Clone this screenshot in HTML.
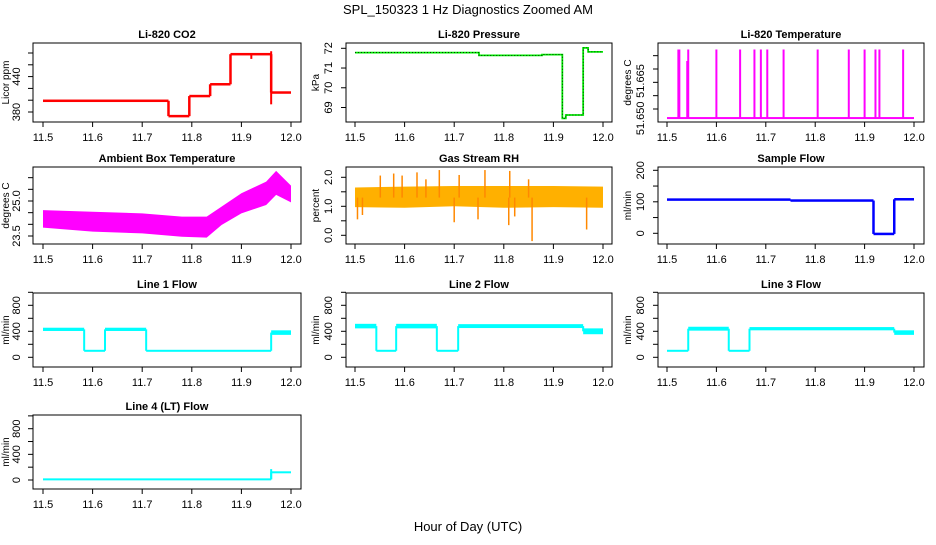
<!DOCTYPE html>
<html><head><meta charset="utf-8">
<style>
html,body{margin:0;padding:0;background:#fff;}
svg text{font-family:"Liberation Sans",sans-serif;}
</style></head>
<body>
<svg id="chart" width="936" height="540" viewBox="0 0 936 540" xmlns="http://www.w3.org/2000/svg">
<rect width="936" height="540" fill="#fff"/>
<text x="468" y="14" font-size="13" text-anchor="middle">SPL_150323 1 Hz Diagnostics Zoomed AM</text>
<text x="468" y="531" font-size="13" text-anchor="middle">Hour of Day (UTC)</text>
</svg>
<script>
// ---------- data ----------
const xTicks = [11.5, 11.6, 11.7, 11.8, 11.9, 12.0];
const xTickLabels = ["11.5", "11.6", "11.7", "11.8", "11.9", "12.0"];

const co2Times = [11.5, 11.753, 11.795, 11.837, 11.878, 11.96, 12.0];
const co2Values = [399, 373, 407, 427, 478, 413];
const co2Spread = [1.5, 1.5, 2, 1.5, 2, 1.5];
const co2Spikes = [[11.96, 393, 483], [11.92, 470, 480]];

const presTimes = [11.5, 11.75, 11.877, 11.918, 11.925, 11.96, 11.97, 12.0];
const presValues = [71.78, 71.64, 71.68, 68.45, 68.62, 72.02, 71.82];

const tempBaseTimes = [11.5, 12.0];
const tempBaseValues = [51.6466];
const tempSpikeTimes = [11.523, 11.525, 11.541, 11.543, 11.6, 11.648, 11.677, 11.69, 11.703, 11.736, 11.805, 11.868, 11.9, 11.922, 11.93, 11.978];
const tempSpikeTop = [51.6723, 51.6723, 51.668, 51.6723, 51.6723, 51.6723, 51.6723, 51.6723, 51.6723, 51.6723, 51.6723, 51.6723, 51.6723, 51.6723, 51.6723, 51.6723];

const ambTimes = [11.5, 11.6, 11.7, 11.78, 11.83, 11.86, 11.9, 11.95, 11.97, 12.0];
const ambLow = [23.86, 23.69, 23.61, 23.47, 23.43, 23.97, 24.47, 24.83, 25.26, 24.94];
const ambHigh = [24.61, 24.54, 24.47, 24.33, 24.33, 24.76, 25.33, 25.83, 26.29, 25.66];

const rhTimes = [11.5, 11.6, 11.7, 11.8, 11.9, 12.0];
const rhLow = [0.97, 0.95, 1.0, 0.95, 0.97, 0.95];
const rhHigh = [1.65, 1.68, 1.7, 1.7, 1.7, 1.68];
const rhSpikeTimes = [11.551, 11.578, 11.595, 11.625, 11.643, 11.67, 11.71, 11.762, 11.812, 11.85, 11.505, 11.515, 11.70, 11.748, 11.81, 11.822, 11.857, 11.967];
const rhSpikeValues = [2.06, 2.13, 2.06, 2.17, 1.93, 2.25, 2.08, 2.25, 2.22, 1.93, 0.55, 0.7, 0.45, 0.55, 0.35, 0.65, -0.2, 0.2];

const sampTimes = [11.5, 11.75, 11.918, 11.96, 12.0];
const sampValues = [107, 104, -2, 108];
const sampSpread = [2.5, 3, 4, 4];

const l1Times = [11.5, 11.583, 11.625, 11.708, 11.75, 11.96, 12.0];
const l1Values = [430, 100, 430, 100, 100, 380];
const l1Spread = [25, 8, 25, 8, 3, 35];

const l2Times = [11.5, 11.543, 11.583, 11.665, 11.708, 11.96, 12.0];
const l2Values = [480, 100, 480, 100, 480, 400];
const l2Spread = [35, 8, 35, 8, 30, 45];

const l3Times = [11.5, 11.543, 11.625, 11.667, 11.96, 12.0];
const l3Values = [100, 440, 100, 440, 380];
const l3Spread = [8, 30, 8, 25, 35];

const l4Times = [11.5, 11.96, 12.0];
const l4Values = [10, 120];
const l4Spread = [8, 10];
const l4Spikes = [[11.96, 10, 170]];

// ---------- layout ----------
const NS = "http://www.w3.org/2000/svg";
const svg = document.getElementById("chart");
const cols = [{bx0:33,bx1:301,x0:43,x1:291,tl:20,at:9},{bx0:346,bx1:612,x0:355,x1:603,tl:332,at:319},{bx0:658,bx1:924,x0:667,x1:914,tl:644,at:631}];
const rows = [{by0:43,by1:122},{by0:167,by1:244},{by0:293,by1:367},{by0:415,by1:489}];

function mk(tag, attrs, parent){
  const e = document.createElementNS(NS, tag);
  for (const k in attrs) e.setAttribute(k, attrs[k]);
  (parent||svg).appendChild(e);
  return e;
}

function panel(name, title, ytitle, c, r, ya, yb, yTicks, yLabels){
  const C = cols[c], R = rows[r];
  const g = mk("g", {});
  
  
  const xs = t => C.x0 + (t - 11.5) / 0.5 * (C.x1 - C.x0);
  const ys = v => ya[1] + (v - ya[0]) / (yb[0] - ya[0]) * (yb[1] - ya[1]);
  const t = mk("text", {x:(C.bx0+C.bx1)/2, y:R.by0-5, "font-size":11, "font-weight":"bold", "text-anchor":"middle"}, g);
  t.textContent = title;
  
  
  const yt = mk("text", {x:C.at, y:(R.by0+R.by1)/2, "font-size":10, "text-anchor":"middle", transform:`rotate(-90 ${C.at} ${(R.by0+R.by1)/2})`}, g);
  yt.textContent = ytitle;
  
  
  // x axis
  const xa = mk("g", {}, g);
  
  
  mk("line", {x1:xs(11.5), x2:xs(12.0), y1:R.by1, y2:R.by1, stroke:"#000"}, xa);
  xTicks.forEach((v,i)=>{
    mk("line", {x1:xs(v), x2:xs(v), y1:R.by1, y2:R.by1+5, stroke:"#000"}, xa);
    const l = mk("text", {x:xs(v), y:R.by1+19, "font-size":11, "text-anchor":"middle"}, xa);
    l.textContent = xTickLabels[i];
  });
  // y axis
  const yaG = mk("g", {}, g);
  
  
  yTicks.forEach(v=>{
    mk("line", {x1:C.bx0-5, x2:C.bx0, y1:ys(v), y2:ys(v), stroke:"#000"}, yaG);
  });
  yLabels.forEach(([v,s])=>{
    const y = ys(v);
    const l = mk("text", {x:C.tl, y:y, "font-size":11, "text-anchor":"middle", transform:`rotate(-90 ${C.tl} ${y})`}, yaG);
    l.textContent = s;
  });
  const clip = "clip-" + name;
  const cp = mk("clipPath", {id:clip}, g);
  mk("rect", {x:C.bx0, y:R.by0, width:C.bx1-C.bx0, height:R.by1-R.by0}, cp);
  const plot = mk("g", {"clip-path":`url(#${clip})`}, g);
  
  
  mk("rect", {x:C.bx0, y:R.by0, width:C.bx1-C.bx0, height:R.by1-R.by0, fill:"none", stroke:"#000"}, g);
  return {xs, ys, plot};
}

function steps(P, name, times, vals, spread, color, lw){
  for (let i=0;i<vals.length;i++){
    const x0 = P.xs(times[i]), x1 = P.xs(times[i+1]);
    const yA = P.ys(vals[i]+spread[i]), yB = P.ys(vals[i]-spread[i]);
    const top = Math.min(yA,yB), h = Math.max(Math.abs(yB-yA), lw);
    const r = mk("rect", {x:x0, y:top - (h===lw ? 0 : 0) - (Math.abs(yB-yA)<lw ? lw/2 - Math.abs(yB-yA)/2 : 0), width:x1-x0, height:h, fill:color}, P.plot);
    
    
    if (i < vals.length-1){
      const c = mk("line", {x1:x1, x2:x1, y1:P.ys(vals[i]), y2:P.ys(vals[i+1]), stroke:color, "stroke-width":lw}, P.plot);
      
      
    }
  }
}
function spikes(P, name, arr, color, lw){
  arr.forEach(([t,lo,hi])=>{
    const l = mk("line", {x1:P.xs(t), x2:P.xs(t), y1:P.ys(lo), y2:P.ys(hi), stroke:color, "stroke-width":lw}, P.plot);
    
    
  });
}
function band(P, name, times, lo, hi, color){
  let d = "M" + times.map((t,i)=>P.xs(t)+","+P.ys(hi[i])).join("L");
  for (let i=times.length-1;i>=0;i--) d += "L" + P.xs(times[i]) + "," + P.ys(lo[i]);
  const p = mk("path", {d:d+"Z", fill:color}, P.plot);
  
  
  return p;
}

// CO2
let P = panel("co2", "Li-820 CO2", "Licor ppm", 0, 0, [380,112], [480,53], [380,400,420,440,460,480], [[380,"380"],[440,"440"]]);
steps(P, "co2", co2Times, co2Values, co2Spread, "#ff0000", 2.5);
spikes(P, "co2", co2Spikes, "#ff0000", 2);

// Pressure
P = panel("pressure", "Li-820 Pressure", "kPa", 1, 0, [69,107.5], [72,48.3], [69,70,71,72], [[69,"69"],[70,"70"],[71,"71"],[72,"72"]]);
{
  let d = "";
  for (let i=0;i<presValues.length;i++){
    d += (i?"L":"M") + P.xs(presTimes[i]) + "," + P.ys(presValues[i]) + "L" + P.xs(presTimes[i+1]) + "," + P.ys(presValues[i]);
  }
  const a = mk("path", {d:d, fill:"none", stroke:"#00ee00", "stroke-width":1.8}, P.plot);
  
  
  const b = mk("path", {d:d, fill:"none", stroke:"#000", "stroke-width":0.8, "stroke-dasharray":"1 2"}, P.plot);
  
  
}

// Temperature
P = panel("temperature", "Li-820 Temperature", "degrees C", 2, 0, [51.650,109], [51.665,69], [51.650,51.655,51.660,51.665,51.670], [[51.6465,"51.650"],[51.6605,"51.665"]]);
steps(P, "temperature", tempBaseTimes, tempBaseValues, [0], "#ff00ff", 2);
spikes(P, "temperature", tempSpikeTimes.map((t,i)=>[t, tempBaseValues[0], tempSpikeTop[i]]), "#ff00ff", 2);

// Ambient
P = panel("ambient", "Ambient Box Temperature", "degrees C", 0, 1, [23.5,236], [25.0,201], [23.5,24.0,24.5,25.0,25.5,26.0], [[23.5,"23.5"],[25.0,"25.0"]]);
band(P, "ambient", ambTimes, ambLow, ambHigh, "#ff00ff");

// RH
P = panel("rh", "Gas Stream RH", "percent", 1, 1, [0,235.3], [2,177.3], [0,0.5,1.0,1.5,2.0], [[0,"0.0"],[1,"1.0"],[2,"2.0"]]);
band(P, "rh", rhTimes, rhLow, rhHigh, "#ffb000");
spikes(P, "rh", rhSpikeTimes.map((t,i)=>[t, 1.3, rhSpikeValues[i]]), "#ff8800", 1.5);
{
  const pat = mk("rect", {x:P.xs(11.5), y:P.ys(1.68), width:P.xs(12)-P.xs(11.5), height:P.ys(0.97)-P.ys(1.68), fill:"none"}, P.plot);
  
  
}

// Sample flow
P = panel("sample-flow", "Sample Flow", "ml/min", 2, 1, [0,233.3], [200,170.3], [0,50,100,150,200], [[0,"0"],[100,"100"],[200,"200"]]);
steps(P, "sample-flow", sampTimes, sampValues, sampSpread, "#0000ff", 2.5);

// Line flows
const flowTicks = [0,200,400,600,800,1000];
const flowLabels = [[0,"0"],[400,"400"],[800,"800"]];
P = panel("line1-flow", "Line 1 Flow", "ml/min", 0, 2, [0,357.3], [800,305.3], flowTicks, flowLabels);
steps(P, "line1-flow", l1Times, l1Values, l1Spread, "#00ffff", 2);
P = panel("line2-flow", "Line 2 Flow", "ml/min", 1, 2, [0,357.3], [800,305.3], flowTicks, flowLabels);
steps(P, "line2-flow", l2Times, l2Values, l2Spread, "#00ffff", 2);
P = panel("line3-flow", "Line 3 Flow", "ml/min", 2, 2, [0,357.3], [800,305.3], flowTicks, flowLabels);
steps(P, "line3-flow", l3Times, l3Values, l3Spread, "#00ffff", 2);
P = panel("line4-flow", "Line 4 (LT) Flow", "ml/min", 0, 3, [0,480], [800,428.7], flowTicks, flowLabels);
steps(P, "line4-flow", l4Times, l4Values, l4Spread, "#00ffff", 2);
spikes(P, "line4-flow", l4Spikes, "#00ffff", 2);
</script>
</body></html>
